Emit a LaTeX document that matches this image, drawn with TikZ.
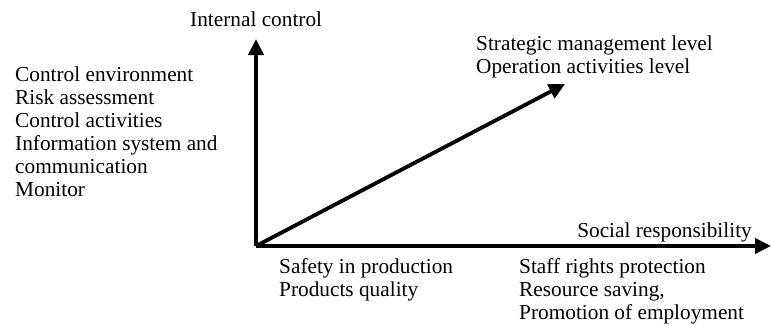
\documentclass[tikz,border=0pt]{standalone}
\usepackage{fontspec}
\setmainfont{Liberation Serif}
\usetikzlibrary{arrows.meta}
\begin{document}
\begin{tikzpicture}[x=1pt,y=-1pt,
  lbl/.style={anchor=base west,inner sep=0pt,font=\fontsize{21.3}{23}\selectfont},
  axis/.style={line width=3.8pt,-{Triangle[length=16pt,width=15pt]}}]
\useasboundingbox (0,0) rectangle (771,324);
\coordinate (o) at (256,246);
\coordinate (ytip) at (256,39);
\coordinate (xtip) at (771,246);
\coordinate (dtip) at (565,84);
\draw[axis] (o) -- (ytip);
\draw[axis] (o) -- (xtip);
\draw[axis] (o) -- (dtip);
\node[lbl] (ic) at (190,27) {Internal control};
\node[lbl] (l1) at (15,81) {Control environment};
\node[lbl] (l2) at (15,104) {Risk assessment};
\node[lbl] (l3) at (15,127) {Control activities};
\node[lbl] (l4) at (15,150) {Information system and};
\node[lbl] (l5) at (15,173) {communication};
\node[lbl] (l6) at (15,196) {Monitor};
\node[lbl] (s1) at (476,50) {Strategic management level};
\node[lbl] (s2) at (476,73) {Operation activities level};
\node[lbl,anchor=base east] (sr) at (752,237) {Social responsibility};
\node[lbl] (p1) at (279,273) {Safety in production};
\node[lbl] (p2) at (279,296) {Products quality};
\node[lbl] (q1) at (519,273) {Staff rights protection};
\node[lbl] (q2) at (519,296) {Resource saving,};
\node[lbl] (q3) at (519,319) {Promotion of employment};
\end{tikzpicture}
\end{document}
